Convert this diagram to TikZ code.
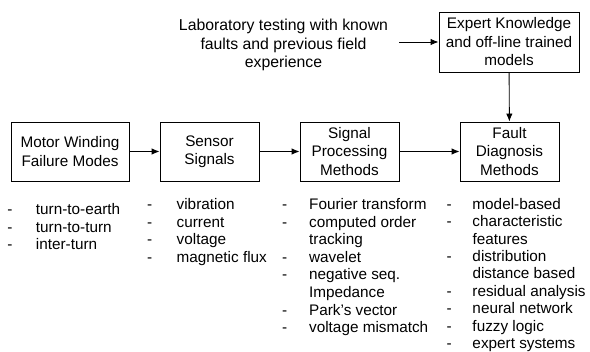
\documentclass[tikz,border=0pt]{standalone}
\usepackage{fontspec}
\setmainfont{Liberation Sans}
\usetikzlibrary{arrows.meta}
\newcommand\itm[1]{\makebox[#1][l]{-}}
\newcommand\noitm[1]{\makebox[#1][l]{}}
\begin{document}
\begin{tikzpicture}[x=1pt,y=-1pt,
  boxnode/.style={draw, line width=0.9pt, inner sep=0pt, align=center,
    minimum height=59pt, font=\fontsize{15.3}{18.5}\selectfont},
  listnode/.style={inner sep=0pt, align=left, anchor=base west,
    font=\fontsize{15.3}{17.6}\selectfont},
  arr/.style={line width=0.9pt, -{Latex[length=8pt,width=6.5pt]}}]
\useasboundingbox (0,0) rectangle (590,352);
\node[boxnode, minimum width=118pt] (b1) at (70,151.5) {Motor Winding\\Failure Modes};
\node[boxnode, minimum width=99pt] (b2) at (209.5,151.5) {Sensor\\Signals};
\node[boxnode, minimum width=99pt] (b3) at (349.5,151.5) {Signal\\Processing\\Methods};
\node[boxnode, minimum width=99pt] (b4) at (509.5,151.5) {Fault\\Diagnosis\\Methods};
\node[boxnode, minimum width=140pt, minimum height=60pt] (ex) at (509,42) {Expert Knowledge\\and off-line trained\\models};
\node[inner sep=0pt, align=center, font=\fontsize{15.8}{18.5}\selectfont] (lab) at (283.5,45)
  {Laboratory testing with known\\faults and previous field\\experience};
\coordinate (labout) at (399,42);
\draw[arr] (b1) -- (b2);
\draw[arr] (b2) -- (b3);
\draw[arr] (b3) -- (b4);
\draw[arr] (ex) -- (b4);
\draw[arr] (labout) -- (ex.west |- labout);
% anchors are at the baseline of the last line
\node[listnode] (l1) at (7.3,249.7) {\itm{28.5pt}turn-to-earth\\\itm{28.5pt}turn-to-turn\\\itm{28.5pt}inter-turn};
\node[listnode] (l2) at (147,262.3) {\itm{29.5pt}vibration\\\itm{29.5pt}current\\\itm{29.5pt}voltage\\\itm{29.5pt}magnetic flux};
\node[listnode] (l3) at (282,332.7) {\itm{27pt}Fourier transform\\\itm{27pt}computed order\\\noitm{27pt}tracking\\\itm{27pt}wavelet\\\itm{27pt}negative seq.\\\noitm{27pt}Impedance\\\itm{27pt}Park’s vector\\\itm{27pt}voltage mismatch};
\node[listnode, font=\fontsize{15.3}{17.4}\selectfont] (l4) at (446.3,348.5) {\itm{26pt}model-based\\\itm{26pt}characteristic\\\noitm{26pt}features\\\itm{26pt}distribution\\\noitm{26pt}distance based\\\itm{26pt}residual analysis\\\itm{26pt}neural network\\\itm{26pt}fuzzy logic\\\itm{26pt}expert systems};
\end{tikzpicture}
\end{document}
